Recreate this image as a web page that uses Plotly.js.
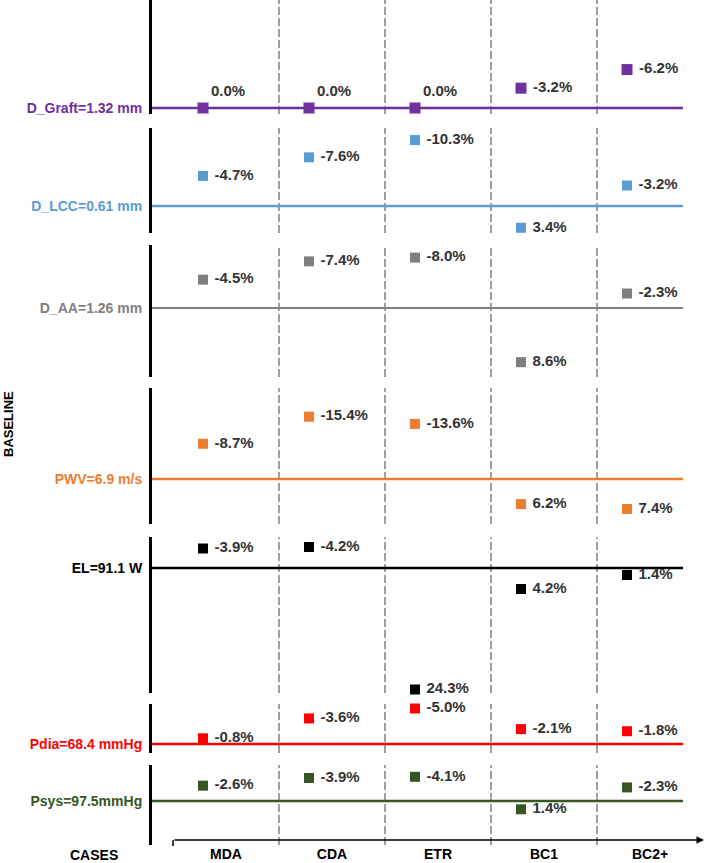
<!DOCTYPE html>
<html><head><meta charset="utf-8">
<script src="https://cdn.plot.ly/plotly-3.0.1.min.js"></script>
<style>html,body{margin:0;padding:0;background:#fff}#chart{width:708px;height:863px}</style>
</head><body><div id="chart"></div><script>
// ---- data ----
const cases = ['MDA', 'CDA', 'ETR', 'BC1', 'BC2+'];
const baselineLabels = ['D_Graft=1.32 mm', 'D_LCC=0.61 mm', 'D_AA=1.26 mm', 'PWV=6.9 m/s', 'EL=91.1 W', 'Pdia=68.4 mmHg', 'Psys=97.5mmHg'];
const dGraft = [0.0, 0.0, 0.0, -3.2, -6.2];
const dLCC = [-4.7, -7.6, -10.3, 3.4, -3.2];
const dAA = [-4.5, -7.4, -8.0, 8.6, -2.3];
const pwv = [-8.7, -15.4, -13.6, 6.2, 7.4];
const el = [-3.9, -4.2, 24.3, 4.2, 1.4];
const pdia = [-0.8, -3.6, -5.0, -2.1, -1.8];
const psys = [-2.6, -3.9, -4.1, 1.4, -2.3];
const series = [dGraft, dLCC, dAA, pwv, el, pdia, psys];

// ---- styling / geometry ----
const colors = ['#7030a0', '#5b9bd5', '#7f7f7f', '#ed7d31', '#000000', '#ff0000', '#375623'];
const W = 708, H = 863;
// [top px, bottom px, baseline px, px per percent]
const panels = [[0,114,108,6.2],[128,233,206,6.4],[245,377,308,6.3],[388,524,479,4.05],[537,693,568,5.0],[704,753,744,7.1],[765,845,801,5.9]];
const c0 = 226, step = 106;             // category centre px / spacing
const toX = px => (px - c0) / step;
const xRange = [toX(152), toX(708)];
const markerShift = -23 / step;
const FONT = 'Liberation Sans, Arial, sans-serif';
const py = px => 1 - px / H;

const traces = [];
const layout = {
  width: W, height: H,
  margin: {l: 0, r: 0, t: 0, b: 0},
  paper_bgcolor: '#fff', plot_bgcolor: 'rgba(0,0,0,0)',
  showlegend: false,
  font: {family: FONT},
  xaxis: {
    domain: [152 / W, 1], range: xRange, anchor: 'free', position: py(840),
    tickvals: cases.map((_, i) => i), ticktext: cases, ticks: '',
    showline: false, showgrid: false, zeroline: false,
    tickfont: {family: FONT, size: 14, color: '#000', weight: 'bold'},
    ticklabelstandoff: 4
  },
  shapes: [], annotations: []
};

series.forEach((vals, k) => {
  const [top, bot, base, s] = panels[k];
  const yid = k === 0 ? 'y' : 'y' + (k + 1);
  const yname = k === 0 ? 'yaxis' : 'yaxis' + (k + 1);
  traces.push({
    type: 'scatter', mode: 'markers+text', xaxis: 'x', yaxis: yid,
    x: cases.map((_, i) => i + markerShift), y: vals,
    text: vals.map(v => (v === 0 ? '' : '\u00a0') + v.toFixed(1) + '%'),
    textposition: vals.map(v => v === 0 ? 'top right' : 'middle right'),
    textfont: {family: FONT, size: 15, color: '#333333', weight: 'bold'},
    marker: {symbol: 'square', size: k === 0 ? 11 : 10, color: colors[k]},
    cliponaxis: false, hoverinfo: 'skip'
  });
  layout[yname] = {
    domain: [py(bot), py(top)],
    range: [(bot - base) / s, -(base - top) / s],
    anchor: 'x', showline: true, linecolor: '#000', linewidth: 3,
    showgrid: false, zeroline: false, ticks: '',
    tickvals: [0], ticktext: [baselineLabels[k]],
    tickfont: {family: FONT, size: 14, color: colors[k], weight: 'bold'},
    ticklabelstandoff: 4
  };
  for (let j = 0; j < cases.length - 1; j++) {
    layout.shapes.push({type: 'line', xref: 'x', yref: yid + ' domain', x0: j + 0.5, x1: j + 0.5, y0: 0, y1: 1,
      line: {color: '#a0a0a0', width: 2, dash: '8px,3px'}, layer: 'below'});
  }
  layout.shapes.push({type: 'line', xref: 'x', yref: yid, x0: xRange[0], x1: toX(683), y0: 0, y1: 0,
    line: {color: colors[k], width: k === 2 ? 2 : 2.5}, layer: 'below'});
});

// x axis with arrow
layout.annotations.push({xref: 'x', yref: 'paper', x: toX(704), y: py(840), axref: 'x', ayref: 'pixel',
  ax: toX(173), ay: 0, text: '', showarrow: true, arrowhead: 2, arrowsize: 1, arrowwidth: 1.5, arrowcolor: '#000'});
layout.shapes.push({type: 'line', xref: 'x', yref: 'paper', x0: toX(173), x1: toX(173), y0: py(840), y1: py(846),
  line: {color: '#000', width: 1.5}});
layout.annotations.push({xref: 'paper', yref: 'paper', x: 8 / W, y: py(424), xanchor: 'center', yanchor: 'middle',
  text: 'BASELINE', textangle: -90,
  showarrow: false, font: {family: FONT, size: 13, color: '#000', weight: 'bold'}});
layout.annotations.push({xref: 'paper', yref: 'paper', x: 93.5 / W, y: py(855), xanchor: 'center', yanchor: 'middle',
  text: 'CASES',
  showarrow: false, font: {family: FONT, size: 14, color: '#000', weight: 'bold'}});

Plotly.newPlot('chart', traces, layout, {displayModeBar: false, staticPlot: true});
</script></body></html>
